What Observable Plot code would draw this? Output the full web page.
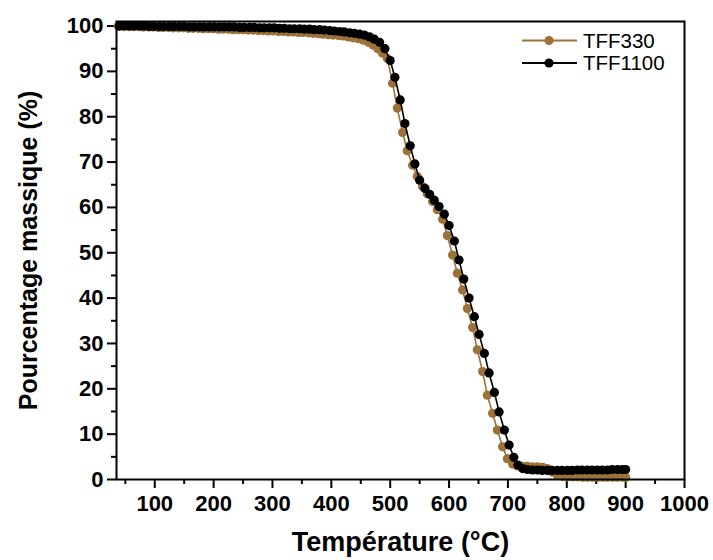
<!DOCTYPE html>
<html>
<head>
<meta charset="utf-8">
<script src="https://cdn.jsdelivr.net/npm/d3@7"></script>
<script src="https://cdn.jsdelivr.net/npm/@observablehq/plot@0.6"></script>
<style>
  html, body { margin: 0; padding: 0; background: #fff; }
  #wrap { position: relative; width: 713px; height: 560px; font-family: "Liberation Sans", Arial, sans-serif; }
  #legend { position: absolute; left: 518px; top: 28px; }
</style>
</head>
<body>
<div id="wrap"><div id="chart"></div><svg id="legend" width="195" height="52"></svg></div>
<script>
// ---- Data ----
const seriesNames = ["TFF330", "TFF1100"];
const seriesColors = ["#9c7238", "#000000"];

const tempTFF1100 = [
  40,48,57,65,74,82,91,99,108,116,125,133,142,150,159,167,176,184,193,201,
  210,218,227,235,244,252,261,269,278,286,295,303,
  312,320,329,337,346,354,363,371,380,388,397,405,
  414,422,431,439,448,456,465,473,482,491,
  500,508,517,525,534,542,550,559,567,575,583,592,600,609,617,625,634,643,651,660,668,677,685,694,702,710,717,725,733,
  742,750,758,767,775,784,792,801,809,818,826,835,843,852,860,869,877,886,894,900
];
const massTFF1100 = [
  100.0,100.0,100.0,100.0,100.0,100.0,99.9,99.9,99.9,99.9,99.9,99.9,99.9,99.9,99.8,99.8,99.8,99.8,99.8,99.8,
  99.8,99.8,99.8,99.8,99.7,99.7,99.7,99.7,99.6,99.6,99.6,99.6,
  99.5,99.5,99.4,99.4,99.4,99.3,99.3,99.2,99.2,99.1,99.0,98.9,
  98.8,98.7,98.5,98.4,98.2,98.0,97.6,97.1,96.4,95.0,
  92.4,88.7,83.7,78.5,73.6,69.6,66.0,64.2,62.9,61.6,60.2,58.5,56.0,52.6,48.4,44.2,40.0,35.9,32.0,27.8,23.5,19.2,14.9,10.9,7.6,4.9,3.2,2.4,2.2,
  2.1,2.1,2.0,2.0,2.0,2.0,2.0,2.0,2.0,2.1,2.1,2.1,2.1,2.1,2.1,2.1,2.2,2.2,2.2,2.2
];

const tempTFF330 = [
  38,46,55,63,72,80,89,97,106,114,123,131,140,148,157,165,174,182,191,199,
  208,216,225,233,242,250,259,267,276,284,293,301,
  310,318,327,335,344,352,361,369,378,386,395,403,
  412,420,429,437,446,454,463,471,479,487,
  495,504,512,521,529,538,546,555,563,572,580,589,597,606,614,623,631,640,648,657,665,674,682,691,699,708,716,
  725,733,742,750,759,767,776,784,793,801,810,818,827,835,844,852,861,869,878,886,895,900
];
const massTFF330 = [
  100.0,100.0,99.9,99.9,99.9,99.8,99.8,99.8,99.7,99.7,99.7,99.6,99.6,99.6,99.5,99.5,99.5,99.4,99.4,99.4,
  99.3,99.3,99.3,99.2,99.2,99.2,99.1,99.1,99.0,99.0,98.9,98.9,
  98.8,98.8,98.7,98.7,98.6,98.6,98.5,98.4,98.3,98.2,98.1,98.0,
  97.9,97.8,97.6,97.4,97.2,96.9,96.4,95.8,95.0,94.0,
  92.9,87.4,81.9,76.5,72.5,69.3,66.8,64.6,63.0,61.3,59.5,57.4,53.8,49.5,45.5,41.8,37.7,33.5,28.6,23.8,18.6,14.6,10.9,7.2,4.6,3.4,3.0,
  2.9,2.9,2.8,2.8,2.7,2.4,1.6,0.9,0.7,0.6,0.6,0.6,0.5,0.5,0.5,0.5,0.5,0.5,0.5,0.5,0.5,0.5
];

const xTicks = [100,200,300,400,500,600,700,800,900,1000];
const xMinorTicks = [50,150,250,350,450,550,650,750,850,950];
const yTicks = [0,10,20,30,40,50,60,70,80,90,100];
const yMinorTicks = [5,15,25,35,45,55,65,75,85,95];
const xTitle = "Température (°C)";
const yTitle = "Pourcentage massique (%)";

// ---- Build tables ----
const dataTFF330 = tempTFF330.map((t, i) => ({t, m: massTFF330[i], s: seriesNames[0]}));
const dataTFF1100 = tempTFF1100.map((t, i) => ({t, m: massTFF1100[i], s: seriesNames[1]}));

const font = {fontSize: 22, fontWeight: "bold"};
const fmt = d => String(d);

const chart = Plot.plot({
  width: 713,
  height: 560,
  marginLeft: 116,
  marginRight: 29,
  marginTop: 21,
  marginBottom: 81,
  style: {fontFamily: "'Liberation Sans', Arial, sans-serif", color: "#000", background: "#fff"},
  x: {domain: [35, 1000]},
  y: {domain: [0, 101]},
  marks: [
    Plot.axisX({ticks: xTicks, tickSize: 9, tickPadding: 7, strokeWidth: 2, tickFormat: fmt, label: null, ...font}),
    Plot.axisX({ticks: xMinorTicks, tickSize: 5, strokeWidth: 2, tickFormat: () => "", label: null}),
    Plot.axisY({ticks: yTicks, tickSize: 9, tickPadding: 4, strokeWidth: 2, tickFormat: fmt, label: null, ...font}),
    Plot.axisY({ticks: yMinorTicks, tickSize: 5, strokeWidth: 2, tickFormat: () => "", label: null}),
    Plot.line(dataTFF330, {x: "t", y: "m", stroke: seriesColors[0], strokeWidth: 1.6}),
    Plot.dot(dataTFF330, {x: "t", y: "m", r: 4.6, fill: seriesColors[0], stroke: "none"}),
    Plot.line(dataTFF1100, {x: "t", y: "m", stroke: seriesColors[1], strokeWidth: 1.6}),
    Plot.dot(dataTFF1100, {x: "t", y: "m", r: 4.6, fill: seriesColors[1], stroke: "none"}),
    Plot.frame({stroke: "#000", strokeWidth: 2}),
    Plot.text([xTitle], {frameAnchor: "bottom", textAnchor: "middle", dy: 71, fontSize: 27, fontWeight: "bold", fill: "#000"}),
    Plot.text([yTitle], {frameAnchor: "left", textAnchor: "middle", dx: -88, rotate: -90, fontSize: 25, fontWeight: "bold", fill: "#000"})
  ]
});
document.getElementById("chart").appendChild(chart);

// ---- Legend ----
const leg = d3.select("#legend");
seriesNames.forEach((name, i) => {
  const y = 12.5 + i * 22.5;
  const g = leg.append("g");
  g.append("line").attr("x1", 4).attr("x2", 59).attr("y1", y).attr("y2", y)
    .attr("stroke", seriesColors[i]).attr("stroke-width", 1.8);
  g.append("circle").attr("cx", 31).attr("cy", y).attr("r", 4.6).attr("fill", seriesColors[i]);
  g.append("text").attr("x", 65).attr("y", y).attr("dy", "0.36em")
    .attr("font-size", 20.5).attr("font-family", "'Liberation Sans', Arial, sans-serif")
    .attr("fill", "#000").text(name);
});
</script>
</body>
</html>
